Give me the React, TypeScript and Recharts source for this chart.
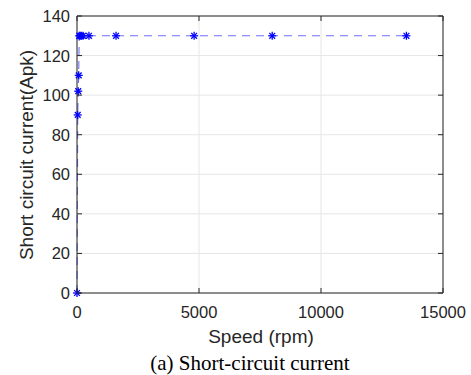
import React from "react";
import { LineChart, Line, XAxis, YAxis, CartesianGrid, ReferenceLine } from "recharts";

const speedRpm = [0, 30, 50, 70, 90, 130, 180, 250, 490, 1600, 4800, 8000, 13500];
const currentApk = [0, 90, 102, 110, 130, 130, 130, 130, 130, 130, 130, 130, 130];
const xTicks = [0, 5000, 10000, 15000];
const yTicks = [0, 20, 40, 60, 80, 100, 120, 140];

const data = speedRpm.map((s, i) => ({ speed: s, current: currentApk[i] }));

const W = 471;
const H = 375;
const L = 77;
const R = 443;
const T = 16;
const B = 293;
const TXT = "#262626";
const FONT = "'Liberation Sans', Arial, sans-serif";

const XTick = (props: any) => {
  const { x, payload } = props;
  return (
    <g>
      <line x1={x} x2={x} y1={B} y2={B - 5} stroke={TXT} />
      <line x1={x} x2={x} y1={T} y2={T + 5} stroke={TXT} />
      <text x={x} y={B + 25} textAnchor="middle" fontSize={16.5} fontFamily={FONT} fill={TXT}>
        {payload.value}
      </text>
    </g>
  );
};

const YTick = (props: any) => {
  const { y, payload } = props;
  return (
    <g>
      <line x1={L} x2={L + 5} y1={y} y2={y} stroke={TXT} />
      <line x1={R} x2={R - 5} y1={y} y2={y} stroke={TXT} />
      <text x={L - 7} y={y + 6} textAnchor="end" fontSize={16.5} fontFamily={FONT} fill={TXT}>
        {payload.value}
      </text>
    </g>
  );
};

const Star = (props: any) => {
  const { cx, cy } = props;
  if (cx == null || cy == null) return null;
  const r = 4;
  const d = r * 0.72;
  return (
    <g stroke="#0000ff" strokeWidth={1.3}>
      <line x1={cx - r} x2={cx + r} y1={cy} y2={cy} />
      <line x1={cx} x2={cx} y1={cy - r} y2={cy + r} />
      <line x1={cx - d} x2={cx + d} y1={cy - d} y2={cy + d} />
      <line x1={cx - d} x2={cx + d} y1={cy + d} y2={cy - d} />
    </g>
  );
};

export default function App() {
  return (
    <div style={{ position: "absolute", left: 0, top: 0, width: W, height: H, background: "#fff" }}>
      <LineChart
        width={W}
        height={H}
        data={data}
        margin={{ top: T, right: W - R, bottom: 0, left: 0 }}
      >
        <CartesianGrid stroke="#e6e6e6" strokeWidth={1} />
        <XAxis
          type="number"
          dataKey="speed"
          domain={[0, 15000]}
          ticks={xTicks}
          height={H - B}
          tickSize={0}
          tickMargin={0}
          tickLine={false}
          axisLine={{ stroke: TXT }}
          tick={<XTick />}
          interval={0}
        />
        <YAxis
          type="number"
          domain={[0, 140]}
          ticks={yTicks}
          width={L}
          tickSize={0}
          tickMargin={0}
          tickLine={false}
          axisLine={{ stroke: TXT }}
          tick={<YTick />}
          interval={0}
        />
        <ReferenceLine y={140} stroke={TXT} />
        <ReferenceLine x={15000} stroke={TXT} />
        <Line
          type="linear"
          dataKey="current"
          stroke="#6f6fff"
          strokeWidth={1.1}
          strokeDasharray="8 6"
          dot={<Star />}
          activeDot={false}
          isAnimationActive={false}
        />
      </LineChart>
      <div
        style={{
          position: "absolute",
          left: 27,
          top: 155,
          transform: "translate(-50%, -50%) rotate(-90deg)",
          whiteSpace: "nowrap",
          fontFamily: FONT,
          fontSize: 19,
          color: TXT,
        }}
      >
        Short circuit current(Apk)
      </div>
      <div
        style={{
          position: "absolute",
          left: 261,
          top: 337,
          transform: "translate(-50%, -50%)",
          whiteSpace: "nowrap",
          fontFamily: FONT,
          fontSize: 19,
          color: TXT,
        }}
      >
        Speed (rpm)
      </div>
      <div
        style={{
          position: "absolute",
          left: 250,
          top: 363,
          transform: "translate(-50%, -50%)",
          whiteSpace: "nowrap",
          fontFamily: "'Liberation Serif', 'Times New Roman', serif",
          fontSize: 21,
          color: "#000",
        }}
      >
        (a) Short-circuit current
      </div>
    </div>
  );
}
